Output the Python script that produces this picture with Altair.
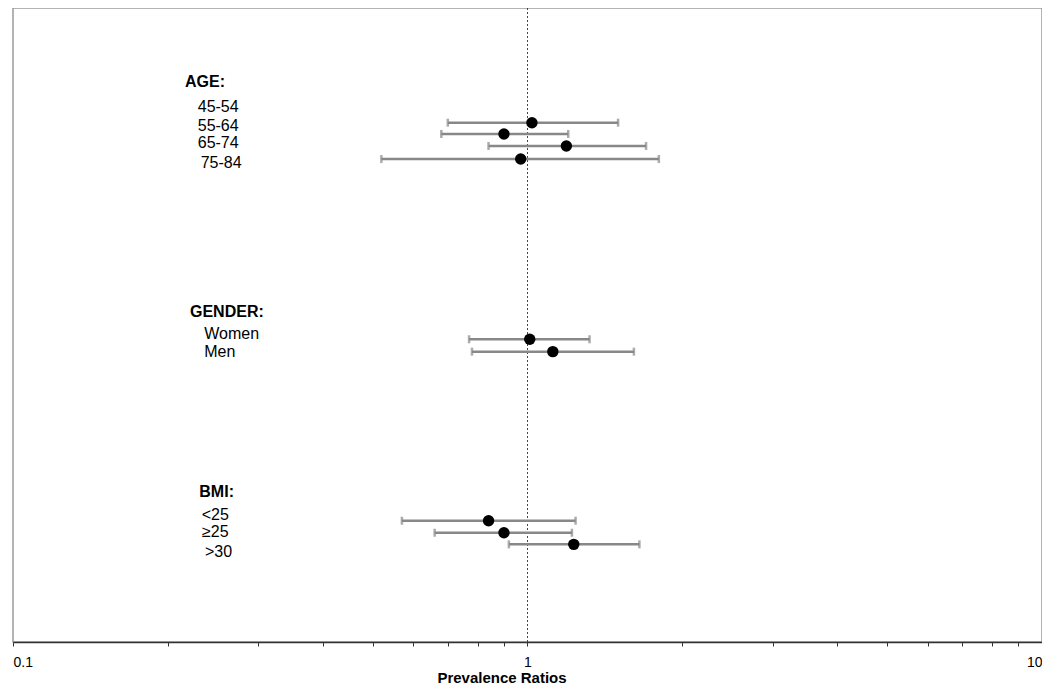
import altair as alt
import pandas as pd

# ---- data ----
labels = ["45-54", "55-64", "65-74", "75-84", "Women", "Men", "<25", "≥25", ">30"]
pr = [1.02, 0.90, 1.19, 0.97, 1.01, 1.12, 0.84, 0.90, 1.23]
lo = [0.70, 0.68, 0.84, 0.52, 0.77, 0.78, 0.57, 0.66, 0.92]
hi = [1.50, 1.20, 1.70, 1.80, 1.32, 1.61, 1.24, 1.22, 1.65]

headers = ["AGE:", "GENDER:", "BMI:"]
tick_values = [0.1, 0.2, 0.3, 0.4, 0.5, 0.6, 0.7, 0.8, 0.9,
               1, 2, 3, 4, 5, 6, 7, 8, 9, 10]

# ---- layout (row positions, in row units; label x in ratio units) ----
bar_rows = [10.14, 11.08, 12.08, 13.17, 28.19, 29.22, 43.31, 44.31, 45.28]
label_rows = [8.81, 10.39, 11.83, 13.5, 27.72, 29.22, 42.86, 44.22, 45.94]
label_x = [0.2286, 0.2286, 0.2286, 0.2316, 0.2354, 0.2354, 0.2327, 0.2330, 0.2361]
header_rows = [6.75, 25.875, 40.89]
header_x = [0.2159, 0.2208, 0.2302]

bars = pd.DataFrame({"label": labels, "pr": pr, "lo": lo, "hi": hi, "row": bar_rows})
lab = pd.DataFrame({"text": labels, "x": label_x, "row": label_rows})
hdr = pd.DataFrame({"text": headers, "x": header_x, "row": header_rows})
ref = pd.DataFrame({"x": [1]})

FONT = "Liberation Sans"
xscale = alt.Scale(type="log", domain=[0.1, 10], nice=False)
yscale = alt.Scale(domain=[0.583, 53.417], reverse=True, zero=False, nice=False)

xaxis = alt.Axis(
    values=tick_values,
    labelExpr="(datum.value == 0.1 || datum.value == 1 || datum.value == 10) ? format(datum.value, '~g') : ''",
    title="Prevalence Ratios",
    grid=False,
    labelFlush=True,
    labelFlushOffset=0,
)

base = alt.Chart(bars)

ci = base.mark_rule(color="#888888", strokeWidth=2.5).encode(
    x=alt.X("lo:Q", scale=xscale, axis=xaxis),
    x2="hi:Q",
    y=alt.Y("row:Q", scale=yscale, axis=None),
)
cap_lo = base.mark_tick(orient="vertical", color="#888888", size=8, thickness=2.5).encode(
    x=alt.X("lo:Q", scale=xscale), y=alt.Y("row:Q", scale=yscale)
)
cap_hi = base.mark_tick(orient="vertical", color="#888888", size=8, thickness=2.5).encode(
    x=alt.X("hi:Q", scale=xscale), y=alt.Y("row:Q", scale=yscale)
)
pts = base.mark_circle(color="black", size=130, opacity=1).encode(
    x=alt.X("pr:Q", scale=xscale), y=alt.Y("row:Q", scale=yscale)
)
refline = alt.Chart(ref).mark_rule(color="#444444", strokeWidth=1, strokeDash=[2, 2]).encode(
    x=alt.X("x:Q", scale=xscale)
)
label_txt = alt.Chart(lab).mark_text(
    align="left", baseline="middle", fontSize=16, font=FONT, color="black"
).encode(x=alt.X("x:Q", scale=xscale), y=alt.Y("row:Q", scale=yscale), text="text:N")
header_txt = alt.Chart(hdr).mark_text(
    align="left", baseline="middle", fontSize=16, font=FONT, fontWeight="bold", color="black"
).encode(x=alt.X("x:Q", scale=xscale), y=alt.Y("row:Q", scale=yscale), text="text:N")

chart = alt.layer(refline, ci, cap_lo, cap_hi, pts, label_txt, header_txt).properties(
    width=1029,
    height=634,
    autosize=alt.AutoSizeParams(type="none"),
    padding={"left": 5, "top": 0, "right": 0, "bottom": 44},
).configure_view(
    stroke="#9a9a9a", strokeWidth=1.5
).configure_axis(
    domainColor="#333333",
    domainWidth=1.5,
    tickColor="#333333",
    tickSize=4,
    tickWidth=1,
    labelFont=FONT,
    labelFontSize=14,
    labelColor="black",
    labelPadding=9,
    titleFont=FONT,
    titleFontSize=15,
    titleFontWeight="bold",
    titleColor="black",
    titleX=488.5,
    titleY=40,
    titleAlign="center",
    titleBaseline="alphabetic",
)

chart.save("out.html", embed_options={"renderer": "svg", "actions": False})
